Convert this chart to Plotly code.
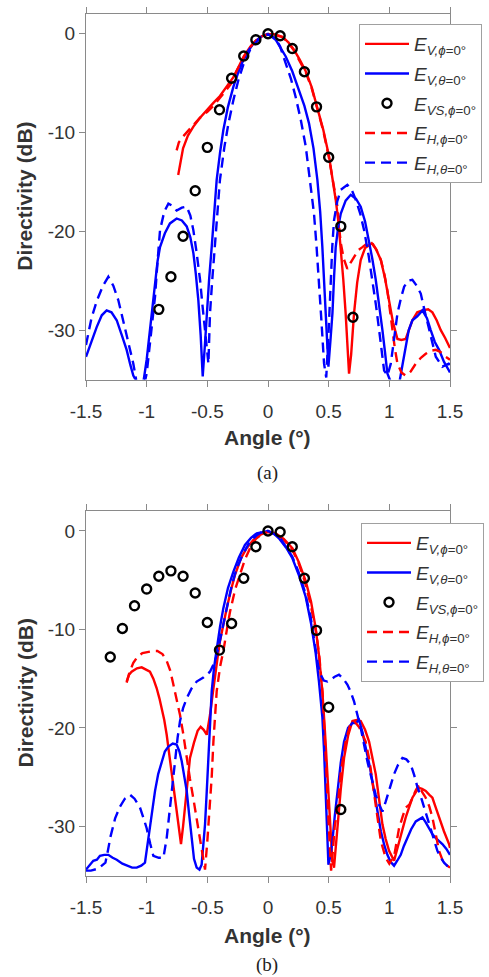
import plotly.graph_objects as go

# ---------------- data: panel (a) ----------------
a_vs_x = [-0.9, -0.8, -0.7, -0.6, -0.5, -0.4, -0.3, -0.2, -0.1, 0.0, 0.1, 0.2, 0.3, 0.4, 0.5, 0.6, 0.7]
a_vs_y = [-27.9, -24.6, -20.5, -15.9, -11.5, -7.7, -4.5, -2.25, -0.6, 0.0, -0.2, -1.5, -3.85, -7.4, -12.5, -19.5, -28.7]

a_evphi_x = [-0.74, -0.70, -0.66, -0.615, -0.56, -0.505, -0.45, -0.396, -0.34, -0.285, -0.24, -0.2, -0.15, -0.1, -0.05, 0.0, 0.05,
             0.119, 0.17, 0.214, 0.26, 0.311, 0.36, 0.407, 0.455, 0.503, 0.53, 0.558, 0.58, 0.60, 0.62, 0.64, 0.655, 0.668,
             0.685, 0.709, 0.735, 0.764, 0.80, 0.855, 0.89, 0.93, 0.965, 0.998, 1.03, 1.067, 1.10, 1.135, 1.19, 1.23, 1.273,
             1.32, 1.355, 1.39, 1.424, 1.46, 1.5]
a_evphi_y = [-14.3, -11.6, -10.3, -9.4, -8.5, -7.7, -7.0, -6.3, -5.4, -4.4, -3.3, -2.3, -1.4, -0.7, -0.25, -0.05, -0.05,
             -0.3, -0.9, -1.6, -2.6, -3.8, -5.4, -7.4, -9.7, -12.4, -14.4, -16.8, -19.0, -21.6, -24.8, -28.3, -31.5, -34.4,
             -32.5, -28.3, -25.2, -22.9, -21.7, -21.2, -21.8, -22.9, -24.8, -27.0, -29.2, -30.9, -31.0, -30.9, -29.0, -28.2, -28.0,
             -27.9, -28.2, -29.0, -30.0, -30.8, -31.8]

a_hphi_x = [-0.753, -0.735, -0.70, -0.66, -0.62, -0.56, -0.5, -0.45, -0.40, -0.35, -0.307, -0.26, -0.2, -0.15, -0.1, -0.05, 0.0,
            0.05, 0.119, 0.17, 0.214, 0.26, 0.311, 0.36, 0.407, 0.455, 0.503, 0.53, 0.555, 0.572, 0.585, 0.60, 0.625, 0.654,
            0.68, 0.709, 0.745, 0.778, 0.82, 0.86, 0.895, 0.93, 0.96, 0.984, 1.005, 1.025, 1.045, 1.067, 1.1, 1.135, 1.175,
            1.218, 1.26, 1.3, 1.34, 1.383, 1.42, 1.465, 1.5]
a_hphi_y = [-11.8, -11.0, -10.4, -9.8, -9.3, -8.5, -7.9, -7.3, -6.6, -5.8, -5.1, -3.8, -2.4, -1.4, -0.7, -0.25, -0.05,
            -0.1, -0.35, -0.95, -1.7, -2.7, -3.9, -5.5, -7.5, -9.8, -12.6, -14.6, -16.5, -17.5, -19.5, -21.2, -22.8, -23.8,
            -23.2, -22.6, -21.9, -21.6, -21.2, -21.2, -21.9, -22.9, -24.4, -26.0, -28.0, -30.0, -31.8, -33.4, -34.3, -34.6, -34.2,
            -33.4, -32.8, -32.4, -32.1, -32.0, -32.2, -32.7, -33.0]

a_evth_x = [-1.5, -1.45, -1.412, -1.37, -1.33, -1.29, -1.247, -1.205, -1.165, -1.135, -1.11, -1.07, -1.03, -1.0, -0.973, -0.95,
            -0.931, -0.91, -0.89, -0.85, -0.808, -0.753, -0.71, -0.67, -0.64, -0.615, -0.595, -0.574, -0.555, -0.538, -0.52,
            -0.505, -0.485, -0.464, -0.443, -0.423, -0.395, -0.368, -0.33, -0.285, -0.245, -0.203, -0.16, -0.12, -0.06, 0.0,
            0.063, 0.1, 0.146, 0.2, 0.256, 0.3, 0.338, 0.375, 0.407, 0.43, 0.448, 0.463, 0.476, 0.488, 0.498, 0.515, 0.531,
            0.545, 0.558, 0.578, 0.6, 0.64, 0.682, 0.725, 0.764, 0.80, 0.833, 0.86, 0.888, 0.915, 0.943, 0.965, 0.984, 1.02,
            1.08, 1.11, 1.135, 1.16, 1.19, 1.23, 1.273, 1.31, 1.341, 1.375, 1.41, 1.45, 1.492, 1.5]
a_evth_y = [-32.7, -31.0, -29.7, -28.5, -28.0, -28.2, -29.0, -30.5, -32.0, -33.5, -34.6, -35.5, -35.5, -33.0, -30.0, -27.2,
            -24.9, -23.0, -21.6, -20.2, -19.2, -18.7, -18.9, -19.5, -20.6, -22.2, -24.3, -27.0, -30.5, -34.7, -31.5,
            -28.3, -24.8, -21.6, -18.2, -14.8, -12.0, -9.75, -7.4, -5.35, -3.9, -2.65, -1.7, -0.96, -0.3, 0.0,
            -0.6, -1.3, -2.3, -3.8, -5.7, -7.3, -9.07, -11.6, -14.8, -18.0, -21.6, -25.0, -28.3, -31.5, -33.7, -31.0, -28.3,
            -24.5, -21.6, -19.6, -18.2, -16.9, -16.3, -16.7, -17.5, -19.0, -20.9, -22.8, -24.9, -27.3, -30.0, -32.3, -34.4, -35.5,
            -35.5, -33.4, -31.7, -30.0, -29.0, -28.6, -28.0, -28.8, -30.0, -31.2, -32.0, -33.2, -34.1, -34.3]

a_hth_x = [-1.5, -1.455, -1.41, -1.36, -1.316, -1.275, -1.233, -1.205, -1.179, -1.145, -1.11, -1.08, -1.02, -1.0, -0.98, -0.959,
           -0.945, -0.931, -0.91, -0.89, -0.855, -0.821, -0.79, -0.753, -0.71, -0.67, -0.64, -0.615, -0.59, -0.56, -0.54,
           -0.519, -0.505, -0.491, -0.485, -0.478, -0.46, -0.437, -0.415, -0.396, -0.36, -0.326, -0.285, -0.244, -0.2, -0.148,
           -0.1, -0.066, 0.0, 0.063, 0.1, 0.146, 0.19, 0.228, 0.27, 0.311, 0.345, 0.379, 0.40, 0.42, 0.44, 0.462, 0.48, 0.50,
           0.517, 0.53, 0.544, 0.57, 0.6, 0.654, 0.69, 0.723, 0.76, 0.792, 0.83, 0.86, 0.89, 0.916, 0.937, 0.957, 0.985, 1.012,
           1.04, 1.067, 1.095, 1.122, 1.155, 1.19, 1.225, 1.259, 1.29, 1.327, 1.355, 1.383, 1.437, 1.49, 1.5]
a_hth_y = [-31.5, -28.8, -27.0, -25.5, -24.6, -25.5, -27.0, -28.5, -30.0, -31.8, -33.4, -35.5, -35.5, -34.4, -32.0, -30.0,
           -28.3, -26.6, -23.0, -19.9, -18.0, -17.2, -17.4, -17.9, -17.6, -17.5, -18.4, -19.9, -22.0, -24.9, -27.5,
           -30.0, -32.0, -33.4, -31.0, -28.3, -25.0, -21.6, -18.0, -14.8, -11.5, -9.07, -6.7, -4.68, -3.0, -1.64,
           -0.9, -0.46, -0.05, -0.46, -1.3, -3.0, -4.6, -6.4, -8.7, -11.4, -14.6, -18.2, -21.5, -24.9, -29.0, -33.4, -34.8, -30.0,
           -24.9, -21.5, -18.9, -17.0, -15.8, -15.3, -15.8, -16.8, -18.2, -19.9, -22.5, -24.9, -27.5, -30.0, -32.2, -34.1, -34.6, -33.4,
           -30.8, -28.3, -26.8, -25.6, -25.0, -24.9, -25.5, -26.3, -28.0, -30.0, -31.5, -32.7, -33.7, -33.4, -33.5]

# ---------------- data: panel (b) ----------------
b_vs_x = [-1.3, -1.2, -1.1, -1.0, -0.9, -0.8, -0.7, -0.6, -0.5, -0.4, -0.3, -0.2, -0.1, 0.0, 0.1, 0.2, 0.3, 0.4, 0.5, 0.6]
b_vs_y = [-12.8, -9.9, -7.6, -5.9, -4.6, -4.05, -4.6, -6.3, -9.3, -12.1, -9.4, -4.8, -1.6, 0.0, -0.1, -1.6, -4.8, -10.1, -17.9, -28.3]

b_evphi_x = [-1.165, -1.145, -1.124, -1.08, -1.041, -1.0, -0.973, -0.945, -0.918, -0.895, -0.876, -0.855, -0.835, -0.815, -0.794,
             -0.775, -0.753, -0.735, -0.717, -0.70, -0.684, -0.665, -0.643, -0.61, -0.58, -0.555, -0.53, -0.505, -0.478, -0.455,
             -0.437, -0.415, -0.396, -0.37, -0.34, -0.305, -0.272, -0.22, -0.176, -0.12, -0.066, 0.0, 0.063, 0.13, 0.201, 0.255,
             0.311, 0.355, 0.393, 0.42, 0.448, 0.47, 0.49, 0.505, 0.517, 0.53, 0.544, 0.558, 0.572, 0.60, 0.627, 0.66, 0.696,
             0.73, 0.764, 0.80, 0.833, 0.86, 0.888, 0.915, 0.943, 0.97, 0.998, 1.039, 1.06, 1.08, 1.11, 1.135, 1.165, 1.19,
             1.22, 1.245, 1.27, 1.3, 1.33, 1.355, 1.38, 1.41, 1.45, 1.492, 1.5]
b_evphi_y = [-15.3, -14.6, -14.3, -13.95, -13.85, -14.1, -14.3, -15.0, -15.95, -17.0, -18.0, -19.2, -20.7, -22.5, -24.7,
             -26.5, -28.1, -30.0, -31.8, -30.0, -28.1, -26.0, -23.05, -21.5, -20.3, -19.9, -20.2, -20.7, -18.7, -16.5,
             -14.6, -12.8, -11.2, -9.5, -7.84, -6.0, -4.46, -2.7, -1.75, -0.9, -0.4, -0.05, -0.23, -0.8, -1.75, -3.2,
             -5.1, -7.2, -9.87, -12.6, -16.3, -20.5, -24.7, -28.5, -31.5, -33.5, -34.2, -32.2, -29.8, -26.2, -23.05, -20.8, -19.3,
             -19.2, -19.3, -20.2, -21.4, -22.9, -24.7, -27.2, -29.8, -31.3, -32.5, -33.5, -32.5, -31.5, -30.2, -29.1, -28.0, -27.1,
             -26.5, -26.1, -26.2, -26.4, -26.8, -27.1, -28.0, -29.1, -30.5, -31.8, -32.2]

b_hphi_x = [-1.165, -1.14, -1.11, -1.077, -1.035, -0.994, -0.95, -0.912, -0.87, -0.835, -0.805, -0.78, -0.755, -0.725, -0.70,
            -0.67, -0.643, -0.615, -0.587, -0.56, -0.54, -0.519, -0.50, -0.478, -0.464, -0.45, -0.437, -0.423, -0.395, -0.368,
            -0.34, -0.313, -0.27, -0.231, -0.19, -0.148, -0.1, -0.038, 0.0, 0.063, 0.13, 0.2, 0.25, 0.3, 0.35, 0.4, 0.425,
            0.45, 0.465, 0.48, 0.495, 0.507, 0.52, 0.535, 0.55, 0.572, 0.6, 0.64, 0.675, 0.709, 0.75, 0.805, 0.835, 0.86,
            0.895, 0.93, 0.97, 1.0, 1.04, 1.08, 1.11, 1.135, 1.165, 1.19, 1.22, 1.245, 1.27, 1.3, 1.33, 1.355, 1.38, 1.41,
            1.44, 1.465, 1.5]
b_hphi_y = [-15.4, -14.3, -13.4, -12.8, -12.4, -12.3, -12.2, -12.2, -12.5, -13.2, -14.2, -15.6, -17.0, -18.7, -20.5,
            -23.2, -25.2, -27.2, -29.4, -31.5, -33.0, -34.4, -31.5, -28.1, -25.0, -21.4, -18.5, -16.3, -13.8, -12.2,
            -10.1, -8.2, -5.9, -4.46, -2.9, -1.75, -0.8, -0.23, -0.1, -0.3, -0.9, -1.9, -3.2, -5.0, -7.4, -10.5, -13.0,
            -16.5, -20.0, -24.0, -28.5, -32.0, -34.5, -32.5, -30.0, -28.3, -24.5, -21.4, -19.8, -19.3, -19.9, -21.4, -23.2, -25.4,
            -28.5, -31.5, -33.2, -33.8, -33.0, -30.2, -29.0, -28.1, -27.8, -27.1, -26.3, -25.8, -26.5, -27.1, -28.0, -29.1, -30.8, -32.5,
            -33.5, -33.9, -34.2]

b_evth_x = [-1.5, -1.47, -1.44, -1.41, -1.385, -1.35, -1.316, -1.28, -1.247, -1.2, -1.165, -1.12, -1.082, -1.045, -1.014, -0.995,
            -0.973, -0.95, -0.931, -0.905, -0.876, -0.85, -0.821, -0.785, -0.753, -0.73, -0.711, -0.69, -0.67, -0.65, -0.629,
            -0.61, -0.588, -0.565, -0.547, -0.533, -0.519, -0.505, -0.491, -0.478, -0.464, -0.445, -0.423, -0.395, -0.368,
            -0.33, -0.285, -0.24, -0.19, -0.14, -0.093, 0.0, 0.05, 0.09, 0.15, 0.201, 0.255, 0.311, 0.355, 0.393, 0.42, 0.448,
            0.462, 0.476, 0.488, 0.498, 0.515, 0.531, 0.55, 0.572, 0.6, 0.627, 0.66, 0.696, 0.725, 0.75, 0.78, 0.805, 0.84,
            0.874, 0.9, 0.93, 0.96, 0.984, 1.01, 1.039, 1.065, 1.094, 1.12, 1.149, 1.18, 1.218, 1.245, 1.273, 1.3, 1.327,
            1.355, 1.383, 1.41, 1.437, 1.47, 1.5]
b_evth_y = [-34.4, -34.0, -33.5, -33.4, -33.0, -32.9, -32.9, -33.2, -33.4, -33.8, -34.0, -34.2, -34.2, -34.0, -33.7, -32.0,
            -29.8, -27.8, -26.4, -24.7, -23.4, -22.4, -21.9, -21.6, -21.7, -22.4, -23.4, -24.8, -26.4, -28.8, -31.5,
            -33.3, -34.2, -34.4, -33.9, -32.0, -29.8, -26.5, -23.05, -19.5, -16.3, -13.9, -11.9, -9.7, -7.84,
            -5.8, -4.12, -2.7, -1.42, -0.7, -0.23, 0.0, -0.3, -0.74, -1.7, -2.77, -4.5, -6.7, -9.4, -12.4, -15.3, -18.9,
            -22.3, -26.4, -30.5, -33.9, -33.0, -31.5, -29.0, -26.4, -23.5, -21.4, -20.0, -19.5, -19.5, -19.2, -20.5, -22.0, -24.0,
            -26.4, -28.5, -30.5, -32.0, -32.9, -33.6, -34.0, -33.5, -32.9, -32.0, -31.2, -30.3, -29.5, -29.3, -29.1, -29.6, -30.2,
            -30.8, -31.2, -31.5, -31.8, -32.3, -32.9]

b_hth_x = [-1.5, -1.46, -1.40, -1.34, -1.32, -1.297, -1.26, -1.22, -1.18, -1.137, -1.1, -1.055, -1.025, -1.0, -0.97, -0.945,
           -0.9, -0.862, -0.835, -0.808, -0.79, -0.767, -0.745, -0.725, -0.7, -0.67, -0.63, -0.588, -0.533, -0.478, -0.437,
           -0.409, -0.375, -0.34, -0.3, -0.258, -0.2, -0.148, -0.09, -0.038, 0.0, 0.05, 0.1, 0.15, 0.2, 0.25, 0.3, 0.35,
           0.393, 0.415, 0.434, 0.46, 0.49, 0.52, 0.55, 0.585, 0.62, 0.654, 0.68, 0.709, 0.735, 0.764, 0.79, 0.819, 0.855,
           0.888, 0.915, 0.943, 0.97, 0.998, 1.02, 1.039, 1.07, 1.108, 1.14, 1.176, 1.205, 1.231, 1.26, 1.286, 1.315, 1.341,
           1.37, 1.396, 1.425, 1.451, 1.475, 1.5]
b_hth_y = [-34.5, -34.5, -34.3, -33.7, -32.5, -31.0, -29.2, -28.0, -27.2, -26.8, -27.2, -28.1, -29.2, -30.2, -31.8, -33.0,
           -33.2, -33.2, -31.2, -28.1, -25.5, -23.05, -21.0, -19.3, -18.0, -17.0, -16.0, -15.3, -14.9, -14.3, -13.25,
           -11.9, -9.8, -7.84, -5.6, -3.78, -2.2, -1.07, -0.4, 0.0, 0.0, -0.3, -0.7, -1.6, -2.6, -4.1, -6.0, -8.6,
           -12.0, -13.8, -14.6, -15.2, -15.3, -15.1, -14.8, -14.6, -15.0, -15.6, -16.3, -17.3, -18.6, -20.0, -21.6, -23.4, -25.2,
           -26.8, -27.8, -28.5, -27.5, -26.4, -25.5, -24.7, -23.8, -23.05, -23.2, -23.7, -24.8, -26.0, -27.0, -28.1, -29.2, -30.2,
           -31.4, -32.5, -33.2, -33.7, -34.0, -34.2]

# ---------------- ticks / labels ----------------
x_tickvals = [-1.5, -1, -0.5, 0, 0.5, 1, 1.5]
x_ticktext = ["-1.5", "-1", "-0.5", "0", "0.5", "1", "1.5"]
y_tickvals = [0, -10, -20, -30]
y_ticktext = ["0", "-10", "-20", "-30"]

names = {
    "evphi": "<i>E</i><sub><i>V,ϕ</i>=0°</sub>",
    "evth": "<i>E</i><sub><i>V,θ</i>=0°</sub>",
    "vs": "<i>E</i><sub><i>VS,ϕ</i>=0°</sub>",
    "hphi": "<i>E</i><sub><i>H,ϕ</i>=0°</sub>",
    "hth": "<i>E</i><sub><i>H,θ</i>=0°</sub>",
}

RED = "#ff0000"
BLUE = "#0000ff"
LW = 2.4
DASH = "10px,6px"

W, H = 489, 977

fig = go.Figure()


def add_panel(xa, ya, leg, vs, evphi, evth, hphi, hth):
    g = leg + "_"
    fig.add_trace(go.Scatter(x=evphi[0], y=evphi[1], mode="lines", name=names["evphi"], legendgroup=g + "1",
                             line=dict(color=RED, width=LW), xaxis=xa, yaxis=ya, legend=leg))
    fig.add_trace(go.Scatter(x=evth[0], y=evth[1], mode="lines", name=names["evth"], legendgroup=g + "2",
                             line=dict(color=BLUE, width=LW), xaxis=xa, yaxis=ya, legend=leg))
    fig.add_trace(go.Scatter(x=hphi[0], y=hphi[1], mode="lines", name=names["hphi"], showlegend=False,
                             legendgroup=g + "4",
                             line=dict(color=RED, width=LW, dash=DASH), xaxis=xa, yaxis=ya, legend=leg))
    fig.add_trace(go.Scatter(x=hth[0], y=hth[1], mode="lines", name=names["hth"], showlegend=False,
                             legendgroup=g + "5",
                             line=dict(color=BLUE, width=LW, dash=DASH), xaxis=xa, yaxis=ya, legend=leg))
    fig.add_trace(go.Scatter(x=vs[0], y=vs[1], mode="markers", name=names["vs"], legendgroup=g + "3",
                             marker=dict(symbol="circle-open", size=9, color="black", line=dict(width=2.4, color="black")),
                             xaxis=xa, yaxis=ya, legend=leg, cliponaxis=False))
    # legend entries for the dashed curves (placed after the markers, as in the reference)
    fig.add_trace(go.Scatter(x=[None], y=[None], mode="lines", name=names["hphi"], legendgroup=g + "4",
                             line=dict(color=RED, width=LW, dash=DASH), xaxis=xa, yaxis=ya, legend=leg))
    fig.add_trace(go.Scatter(x=[None], y=[None], mode="lines", name=names["hth"], legendgroup=g + "5",
                             line=dict(color=BLUE, width=LW, dash=DASH), xaxis=xa, yaxis=ya, legend=leg))


add_panel("x", "y", "legend", (a_vs_x, a_vs_y), (a_evphi_x, a_evphi_y), (a_evth_x, a_evth_y),
          (a_hphi_x, a_hphi_y), (a_hth_x, a_hth_y))
add_panel("x2", "y2", "legend2", (b_vs_x, b_vs_y), (b_evphi_x, b_evphi_y), (b_evth_x, b_evth_y),
          (b_hphi_x, b_hphi_y), (b_hth_x, b_hth_y))

AX_COL = "#8a8a8a"
TXT_COL = "#333333"
FONT = "Liberation Sans, Arial, sans-serif"

xdom = [86 / W, 450 / W]
ydom_a = [1 - 379.5 / H, 1 - 14 / H]
ydom_b = [1 - 875.5 / H, 1 - 511.3 / H]

xcommon = dict(range=[-1.5, 1.5], tickmode="array", tickvals=x_tickvals, ticktext=x_ticktext,
               ticks="outside", ticklen=6, tickwidth=1, tickcolor=AX_COL, showline=True, linecolor=AX_COL,
               linewidth=1, mirror="ticks", showgrid=False, zeroline=False, automargin=False,
               tickfont=dict(family=FONT, size=19, color=TXT_COL), ticklabelstandoff=9, domain=xdom)
ycommon = dict(range=[-35, 2], tickmode="array", tickvals=y_tickvals, ticktext=y_ticktext,
               ticks="outside", ticklen=6, tickwidth=1, tickcolor=AX_COL, showline=True, linecolor=AX_COL,
               linewidth=1, mirror="ticks", showgrid=False, zeroline=False, automargin=False,
               tickfont=dict(family=FONT, size=19, color=TXT_COL))

legcommon = dict(xanchor="left", yanchor="top", bgcolor="white", bordercolor="#a0a0a0", borderwidth=1,
                 font=dict(family=FONT, size=19, color=TXT_COL), itemwidth=44, tracegroupgap=2)

fig.update_layout(
    width=W, height=H, margin=dict(l=0, r=0, t=0, b=0),
    paper_bgcolor="white", plot_bgcolor="white",
    xaxis=dict(**xcommon, anchor="y"),
    yaxis=dict(**ycommon, domain=ydom_a, anchor="x"),
    xaxis2=dict(**xcommon, anchor="y2"),
    yaxis2=dict(**ycommon, domain=ydom_b, anchor="x2"),
    legend=dict(**legcommon, x=359 / W, y=1 - 24 / H),
    legend2=dict(**legcommon, x=361 / W, y=1 - 523 / H),
)

title_font = dict(family=FONT, size=21, color=TXT_COL, weight="bold")
cap_font = dict(family="Liberation Serif, Times New Roman, serif", size=19, color="#222222")
ann = []
for ycen_title, ycen_x, ycen_cap, cap in [(196.75, 437, 473, "(a)"), (693.4, 935, 965, "(b)")]:
    ann.append(dict(text="Directivity (dB)", x=25 / W, y=1 - ycen_title / H, xref="paper", yref="paper",
                    showarrow=False, textangle=-90, xanchor="center", yanchor="middle", font=title_font))
    ann.append(dict(text="Angle (°)", x=267.3 / W, y=1 - ycen_x / H, xref="paper", yref="paper",
                    showarrow=False, xanchor="center", yanchor="middle", font=title_font))
    ann.append(dict(text=cap, x=267.3 / W, y=1 - ycen_cap / H, xref="paper", yref="paper",
                    showarrow=False, xanchor="center", yanchor="middle", font=cap_font))
fig.update_layout(annotations=ann)

fig.write_html("out.html")
